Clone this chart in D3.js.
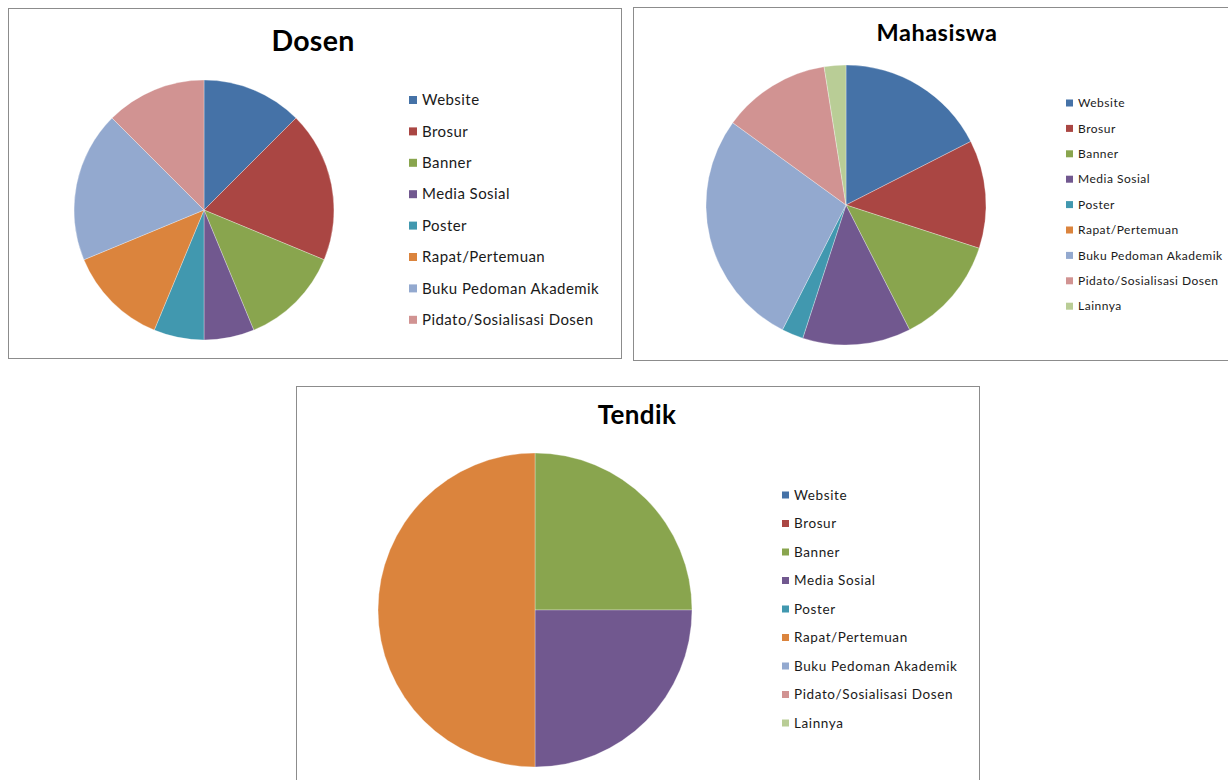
<!DOCTYPE html>
<html><head><meta charset="utf-8">
<script src="https://cdn.jsdelivr.net/npm/d3@7"></script>
<style>body{margin:0;background:#fff;}svg{display:block;font-family:Lato,"Open Sans",sans-serif;}</style>
</head><body>
<svg id="c" width="1228" height="780"></svg>
<script>
const categoriesDosen = ["Website","Brosur","Banner","Media Sosial","Poster","Rapat/Pertemuan","Buku Pedoman Akademik","Pidato/Sosialisasi Dosen"];
const categoriesAll = ["Website","Brosur","Banner","Media Sosial","Poster","Rapat/Pertemuan","Buku Pedoman Akademik","Pidato/Sosialisasi Dosen","Lainnya"];
const valuesDosen = [2,3,2,1,1,2,3,2];
const valuesMahasiswa = [7,5,5,5,1,0,11,5,1];
const valuesTendik = [0,0,1,1,0,2,0,0,0];
const colors = ["#4572A7","#AA4643","#89A54E","#71588F","#4198AF","#DB843D","#93A9CF","#D19392","#B9CD96"];

const svg = d3.select("#c");
const color = d3.scaleOrdinal().domain(categoriesAll).range(colors);

const panels = [
  {title:"Dosen", cats:categoriesDosen, vals:valuesDosen,
   box:[8.5,8.5,613,350], titleX:313, titleY:51, titleSize:28.5, titleLs:0.3,
   cx:204, cy:210, r:130, legX:409, legY:100, legStep:31.4, legSize:15, legLs:0.45, mk:8},
  {title:"Mahasiswa", cats:categoriesAll, vals:valuesMahasiswa,
   box:[633.5,7.5,620,353], titleX:937, titleY:41, titleSize:23.5, titleLs:0.5,
   cx:846, cy:205, r:140, legX:1066, legY:103, legStep:25.4, legSize:12, legLs:0.5, mk:7},
  {title:"Tendik", cats:categoriesAll, vals:valuesTendik,
   box:[296.5,386.5,683,420], titleX:637, titleY:424, titleSize:26, titleLs:0.4,
   cx:535, cy:610, r:157, legX:782, legY:495, legStep:28.5, legSize:13.5, legLs:0.6, mk:7}
];

panels.forEach(p => {
  const g = svg.append("g");
  g.append("rect").attr("x",p.box[0]).attr("y",p.box[1]).attr("width",p.box[2]).attr("height",p.box[3])
    .attr("fill","#fff").attr("stroke","#8c8c8c").attr("stroke-width",1);
  g.append("text").attr("x",p.titleX).attr("y",p.titleY).attr("text-anchor","middle")
    .attr("font-weight","bold").attr("font-size",p.titleSize).attr("letter-spacing",p.titleLs)
    .attr("fill","#000").text(p.title);
  const data = p.cats.map((c,i)=>({cat:c, v:p.vals[i]}));
  const pie = d3.pie().sort(null).value(d=>d.v);
  const arc = d3.arc().innerRadius(0).outerRadius(p.r);
  g.append("g").attr("transform",`translate(${p.cx},${p.cy})`)
    .selectAll("path").data(pie(data).filter(d=>d.data.v>0)).join("path")
    .attr("d",arc).attr("fill",d=>color(d.data.cat))
    .attr("stroke","#ffffff").attr("stroke-opacity",0.5).attr("stroke-width",0.6);
  const leg = g.append("g").selectAll("g").data(p.cats).join("g")
    .attr("transform",(d,i)=>`translate(${p.legX},${p.legY + i*p.legStep})`);
  leg.append("rect").attr("x",0).attr("y",-p.mk/2).attr("width",p.mk).attr("height",p.mk).attr("fill",d=>color(d));
  leg.append("text").attr("x",p.mk+5).attr("y",0).attr("dy","0.35em")
    .attr("font-size",p.legSize).attr("letter-spacing",p.legLs).attr("fill","#1a1a1a").text(d=>d);
});
</script>
</body></html>
